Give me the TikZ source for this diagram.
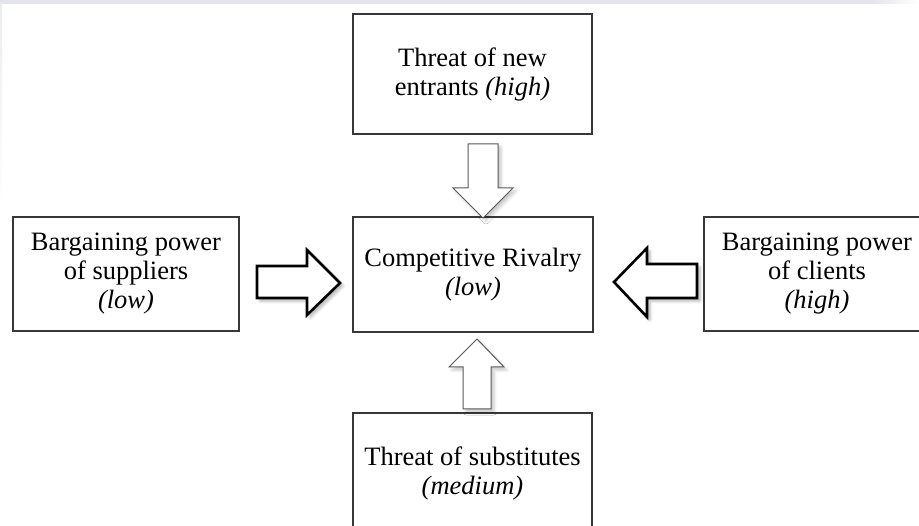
\documentclass[tikz,border=0pt]{standalone}
\usepackage{fontspec}
\setmainfont{Liberation Serif}
\usetikzlibrary{shadows.blur}
\definecolor{band}{RGB}{226,228,233}
\begin{document}
\begin{tikzpicture}[x=1pt,y=-1pt,
  box/.style={draw=black!78, line width=1.1pt, fill=white, align=center,
    inner sep=0pt, font=\fontsize{26.5}{29}\selectfont},
  thinarrow/.style={draw=black!65, line width=1pt, fill=white, line join=miter,
    blur shadow={shadow xshift=3pt, shadow yshift=-3pt, shadow blur radius=3pt, shadow opacity=22}},
  thickarrow/.style={draw=black, line width=2.6pt, fill=white, line join=miter,
    blur shadow={shadow xshift=3pt, shadow yshift=-3pt, shadow blur radius=3pt, shadow opacity=30}}]
\useasboundingbox (0,0) rectangle (919,526);
\clip (0,0) rectangle (919,526);
% faint screenshot band
\fill[band] (0,0) rectangle (870,4);
\shade[left color=band, right color=white] (869,0) rectangle (919,4);
\shade[top color=band!70, bottom color=white] (0,4) rectangle (2,210);
% boxes
\node[box, minimum width=239pt, minimum height=120pt] (top) at (472.5,74)
  {Threat of new\\entrants \textit{(high)}};
\node[box, minimum width=240pt, minimum height=115pt] (center) at (473,274.5)
  {Competitive Rivalry\\\textit{(low)}};
\node[box, minimum width=226pt, minimum height=114pt] (left) at (126,274)
  {Bargaining power\\of suppliers\\\textit{(low)}};
\node[box, minimum width=226pt, minimum height=114pt] (right) at (817,274)
  {Bargaining power\\of clients\\\textit{(high)}};
\node[box, minimum width=239pt, minimum height=120pt] (bottom) at (472.5,473)
  {Threat of substitutes\\\textit{(medium)}};
% block arrows
\draw[thinarrow] (468,144) -- (498,144) -- (498,188) -- (513,188) -- (483,218)
  -- (453,188) -- (468,188) -- cycle;
\draw[thinarrow] (463,409) -- (491,409) -- (491,367) -- (504,367) -- (477,339)
  -- (449,367) -- (463,367) -- cycle;
\draw[thickarrow] (257,266) -- (307,266) -- (307,250) -- (340,283) -- (307,315)
  -- (307,298) -- (257,298) -- cycle;
\draw[thickarrow] (697,264) -- (647,264) -- (647,248) -- (614,282) -- (647,317)
  -- (647,298) -- (697,298) -- cycle;
\end{tikzpicture}
\end{document}
